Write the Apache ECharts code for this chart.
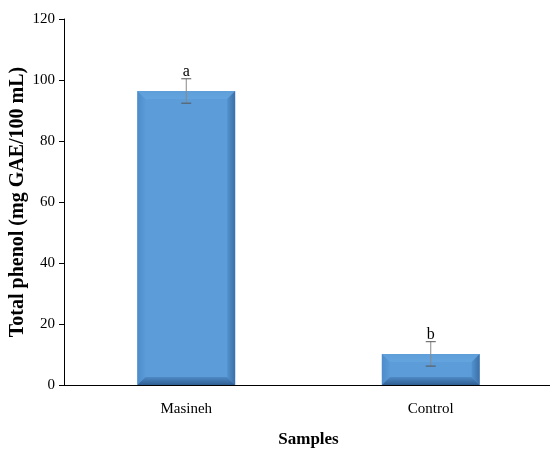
<!DOCTYPE html>
<html><head><meta charset="utf-8">
<script src="https://cdn.jsdelivr.net/npm/echarts@6/dist/echarts.min.js"></script>
<style>html,body{margin:0;padding:0;background:#fff}#c{width:550px;height:450px}</style>
</head><body><div id="c"></div>
<script>
var categories = ['Masineh', 'Control'];
var values = [96.4, 10.2];
var errors = [4.0, 4.0];
var letters = ['a', 'b'];
var yTicks = [0, 20, 40, 60, 80, 100, 120];

var chart = echarts.init(document.getElementById('c'));
var font = '"Liberation Serif", "Times New Roman", serif';
var BW = 0.4;
chart.setOption({
  animation: false,
  grid: {left: 64, top: 19, right: -3, bottom: 65, containLabel: false, outerBoundsMode: 'none'},
  xAxis: {
    type: 'category', data: categories,
    axisLine: {lineStyle: {color: '#000', width: 1.2}},
    axisTick: {show: false},
    axisLabel: {color: '#000', fontFamily: font, fontSize: 15, margin: 17},
    name: 'Samples', nameLocation: 'middle', nameGap: 46, nameMoveOverlap: false,
    nameTextStyle: {color: '#000', fontFamily: font, fontSize: 17, fontWeight: 'bold'}
  },
  yAxis: {
    type: 'value', min: 0, max: 120, interval: 20,
    axisLine: {show: true, lineStyle: {color: '#000', width: 1}},
    axisTick: {show: true, inside: false, length: 5, lineStyle: {color: '#000'}},
    splitLine: {show: false},
    axisLabel: {color: '#000', fontFamily: font, fontSize: 15, margin: 9,
      formatter: function (v) { return yTicks.indexOf(v) >= 0 ? String(v) : ''; }},
    name: 'Total phenol (mg GAE/100 mL)', nameLocation: 'middle', nameGap: 36, nameMoveOverlap: false,
    nameTextStyle: {color: '#000', fontFamily: font, fontSize: 20, fontWeight: 'bold'}
  },
  series: [{
    type: 'bar', data: values, barWidth: (BW * 100) + '%',
    itemStyle: {color: '#5c9dd9'}
  }, {
    type: 'custom',
    data: values.map(function (v, i) { return [i, v]; }),
    renderItem: function (params, api) {
      var x = api.value(0), v = api.value(1);
      var t = api.coord([x, v]), b = api.coord([x, 0]);
      var w = api.size([1, 0])[0] * BW;
      var L = t[0] - w / 2, R = t[0] + w / 2, T = t[1], B = b[1];
      var d = Math.min(8, (B - T) / 2);
      function poly(pts, fill) { return {type: 'polygon', shape: {points: pts}, style: {fill: fill}}; }
      return {type: 'group', children: [
        poly([[L, T], [R, T], [R - d, T + d], [L + d, T + d]], {type: 'linear', x: 0, y: 0, x2: 0, y2: 1, colorStops: [{offset: 0, color: '#5f9fd9'}, {offset: 1, color: '#63a3de'}]}),
        poly([[L, T], [L + d, T + d], [L + d, B - d], [L, B]], {type: 'linear', x: 0, y: 0, x2: 1, y2: 0, colorStops: [{offset: 0, color: '#4d8ccb'}, {offset: 1, color: '#5a9ad6'}]}),
        poly([[R, T], [R - d, T + d], [R - d, B - d], [R, B]], {type: 'linear', x: 0, y: 0, x2: 1, y2: 0, colorStops: [{offset: 0, color: '#5292cf'}, {offset: 1, color: '#3c6fa6'}]}),
        poly([[L, B], [L + d, B - d], [R - d, B - d], [R, B]], {type: 'linear', x: 0, y: 0, x2: 0, y2: 1, colorStops: [{offset: 0, color: '#4f8ac5'}, {offset: 1, color: '#2f5f93'}]})
      ]};
    },
    z: 5
  }, {
    type: 'custom',
    data: values.map(function (v, i) { return [i, v, errors[i]]; }),
    renderItem: function (params, api) {
      var x = api.value(0), v = api.value(1), e = api.value(2);
      var top = api.coord([x, v + e]);
      var bot = api.coord([x, v - e]);
      var hw = 5;
      return {type: 'group', children: [
        {type: 'line', shape: {x1: top[0], y1: top[1], x2: bot[0], y2: bot[1]}, style: {stroke: '#888', lineWidth: 1}},
        {type: 'line', shape: {x1: top[0] - hw, y1: top[1], x2: top[0] + hw, y2: top[1]}, style: {stroke: '#555', lineWidth: 1}},
        {type: 'line', shape: {x1: bot[0] - hw, y1: bot[1], x2: bot[0] + hw, y2: bot[1]}, style: {stroke: '#555', lineWidth: 1}},
        {type: 'text', style: {text: letters[params.dataIndex], x: top[0], y: top[1] + 1, textAlign: 'center', textVerticalAlign: 'bottom', fill: '#000', font: '16px ' + font}}
      ]};
    },
    z: 10
  }]
});
</script></body></html>
